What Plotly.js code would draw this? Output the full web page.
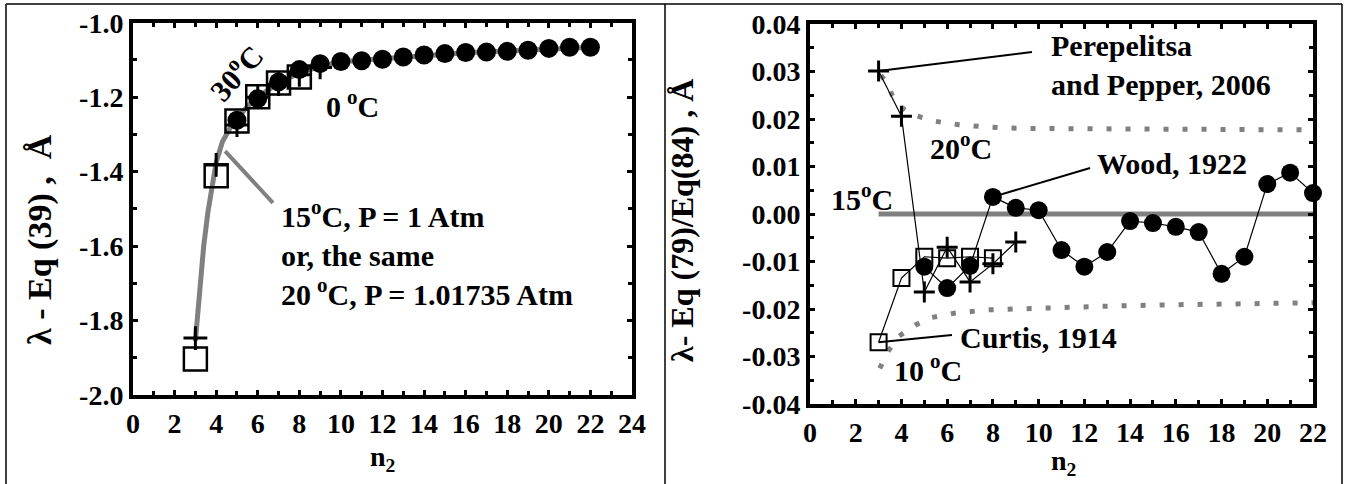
<!DOCTYPE html>
<html><head><meta charset="utf-8">
<script src="https://cdn.plot.ly/plotly-3.0.1.min.js"></script>
<style>html,body{margin:0;padding:0;background:#fff}#chart{width:1348px;height:484px}</style>
</head><body><div id="chart"></div>
<script>
// ---------- LEFT PANEL DATA ----------
const leftCurveN = [3, 3.2, 3.4, 3.6, 3.8, 4, 4.3, 4.7, 5, 5.5, 6, 7, 8, 9, 10, 12, 14, 16, 18, 20, 22];
const leftCurve  = [-1.855, -1.72, -1.60, -1.51, -1.44, -1.375, -1.32, -1.28, -1.258, -1.225, -1.2, -1.162, -1.135, -1.117, -1.105, -1.097, -1.088, -1.081, -1.076, -1.070, -1.066];
const leftSqN    = [3, 4, 5, 6, 7, 8];
const leftSq     = [-1.903, -1.411, -1.264, -1.199, -1.162, -1.146];
const leftCircN  = [5, 6, 7, 8, 9, 10, 11, 12, 13, 14, 15, 16, 17, 18, 19, 20, 21, 22];
const leftCirc   = [-1.262, -1.204, -1.159, -1.126, -1.110, -1.104, -1.102, -1.098, -1.092, -1.087, -1.083, -1.080, -1.079, -1.077, -1.074, -1.069, -1.066, -1.066];
const leftPlusN  = [3, 4, 5, 6, 7, 8, 9];
const leftPlus   = [-1.847, -1.382, -1.275, -1.200, -1.165, -1.140, -1.120];
const leftXTicks = [0, 2, 4, 6, 8, 10, 12, 14, 16, 18, 20, 22, 24];
const leftXText  = ['0','2','4','6','8','10','12','14','16','18','20','22','24'];
const leftYTicks = [-1.0, -1.2, -1.4, -1.6, -1.8, -2.0];
const leftYText  = ['-1.0','-1.2','-1.4','-1.6','-1.8','-2.0'];

// ---------- RIGHT PANEL DATA ----------
const zeroN      = [3, 22];
const zeroV      = [0, 0];
const upperN     = [3.1, 3.3, 3.6, 3.9, 4.3, 4.7, 5.5, 6.5, 7.5, 8.5, 10, 13, 16, 19, 22];
const upperV     = [0.0292, 0.0280, 0.0250, 0.0228, 0.0214, 0.0206, 0.0195, 0.0188, 0.0184, 0.0181, 0.0180, 0.0179, 0.0178, 0.0178, 0.0177];
const lowerN     = [3.05, 3.4, 3.9, 4.6, 5.3, 6.3, 7.7, 10, 13, 16, 19, 22];
const lowerV     = [-0.0325, -0.0290, -0.0257, -0.0234, -0.0218, -0.0209, -0.0202, -0.0198, -0.0194, -0.0191, -0.0189, -0.0187];
const curtisN    = [3, 4, 5, 6, 7, 8];
const curtisV    = [-0.0270, -0.0135, -0.0090, -0.0093, -0.0090, -0.0093];
const perepN     = [3, 4, 5, 6, 7, 8, 9];
const perepV     = [0.0301, 0.0206, -0.0164, -0.0070, -0.0143, -0.0105, -0.0059];
const woodN      = [5, 6, 7, 8, 9, 10, 11, 12, 13, 14, 15, 16, 17, 18, 19, 20, 21, 22];
const woodV      = [-0.0111, -0.0156, -0.0109, 0.0036, 0.0013, 0.0008, -0.0076, -0.0111, -0.0080, -0.0015, -0.0019, -0.0027, -0.0038, -0.0126, -0.0090, 0.0063, 0.0087, 0.0044];
const rightXTicks = [0, 2, 4, 6, 8, 10, 12, 14, 16, 18, 20, 22];
const rightXText  = ['0','2','4','6','8','10','12','14','16','18','20','22'];
const rightYTicks = [0.04, 0.03, 0.02, 0.01, 0.00, -0.01, -0.02, -0.03, -0.04];
const rightYText  = ['0.04','0.03','0.02','0.01','0.00','-0.01','-0.02','-0.03','-0.04'];

const FONT = '"Liberation Serif", "Times New Roman", Times, serif';
const GRAY = '#808080';
const tf = {family: FONT, size: 28, color: 'black', weight: 700};

const traces = [
  {x: leftCurveN, y: leftCurve, mode: 'lines', line: {color: GRAY, width: 5}, xaxis: 'x', yaxis: 'y', cliponaxis: false},
  {x: leftSqN, y: leftSq, mode: 'markers', marker: {symbol: 'square-open', size: 23, color: 'black', line: {width: 2.5, color: 'black'}}, xaxis: 'x', yaxis: 'y', cliponaxis: false},
  {x: leftCircN, y: leftCirc, mode: 'markers', marker: {symbol: 'circle', size: 19, color: 'black'}, xaxis: 'x', yaxis: 'y', cliponaxis: false},
  {x: leftPlusN, y: leftPlus, mode: 'markers', marker: {symbol: 'cross-thin', size: 17, color: 'black', line: {width: 3, color: 'black'}}, xaxis: 'x', yaxis: 'y', cliponaxis: false},

  {x: zeroN, y: zeroV, mode: 'lines', line: {color: GRAY, width: 5}, xaxis: 'x2', yaxis: 'y2', cliponaxis: false},
  {x: upperN, y: upperV, mode: 'lines', line: {color: GRAY, width: 5, dash: '5px,14px'}, xaxis: 'x2', yaxis: 'y2', cliponaxis: false},
  {x: lowerN, y: lowerV, mode: 'lines', line: {color: GRAY, width: 5, dash: '5px,14px'}, xaxis: 'x2', yaxis: 'y2', cliponaxis: false},
  {x: curtisN, y: curtisV, mode: 'lines+markers', line: {color: 'black', width: 1.2}, marker: {symbol: 'square-open', size: 16, color: 'black', line: {width: 2, color: 'black'}}, xaxis: 'x2', yaxis: 'y2', cliponaxis: false},
  {x: perepN, y: perepV, mode: 'lines+markers', line: {color: 'black', width: 1.2}, marker: {symbol: 'cross-thin', size: 15, color: 'black', line: {width: 3, color: 'black'}}, xaxis: 'x2', yaxis: 'y2', cliponaxis: false},
  {x: woodN, y: woodV, mode: 'lines+markers', line: {color: 'black', width: 1.2}, marker: {symbol: 'circle', size: 18, color: 'black'}, xaxis: 'x2', yaxis: 'y2', cliponaxis: false}
];

function axis(extra) {
  return Object.assign({
    showline: true, linewidth: 4, linecolor: 'black', mirror: 'allticks',
    ticks: 'inside', ticklen: 5, tickwidth: 3, tickcolor: 'black',
    showgrid: false, zeroline: false, tickmode: 'array', tickfont: tf, fixedrange: true
  }, extra);
}

const layout = {
  width: 1348, height: 484,
  margin: {l: 0, r: 0, t: 0, b: 0},
  paper_bgcolor: 'white', plot_bgcolor: 'white',
  showlegend: false,
  xaxis: axis({domain: [133/1348, 632/1348], range: [0, 24], anchor: 'y', tickvals: leftXTicks, ticktext: leftXText,
    minor: {tickmode: 'linear', tick0: 0, dtick: 1, ticks: 'inside', ticklen: 4, tickwidth: 3, tickcolor: 'black'}}),
  yaxis: axis({domain: [1 - 395/484, 1 - 22.7/484], range: [-2, -1], anchor: 'x', tickvals: leftYTicks, ticktext: leftYText,
    minor: {tickmode: 'linear', tick0: -2, dtick: 0.1, ticks: 'inside', ticklen: 4, tickwidth: 3, tickcolor: 'black'}}),
  xaxis2: axis({domain: [810/1348, 1313/1348], range: [0, 22], anchor: 'y2', tickvals: rightXTicks, ticktext: rightXText,
    minor: {tickmode: 'linear', tick0: 0, dtick: 1, ticks: 'inside', ticklen: 4, tickwidth: 3, tickcolor: 'black'}}),
  yaxis2: axis({domain: [1 - 404/484, 1 - 24/484], range: [-0.04, 0.04], anchor: 'x2', tickvals: rightYTicks, ticktext: rightYText,
    minor: {tickmode: 'linear', tick0: -0.04, dtick: 0.005, ticks: 'inside', ticklen: 4, tickwidth: 3, tickcolor: 'black'}}),
  shapes: [
    // outer frame and divider
    {type: 'line', xref: 'paper', yref: 'paper', x0: 6/1348, x1: 1342/1348, y0: 1 - 4/484, y1: 1 - 4/484, line: {color: 'black', width: 1.5}},
    {type: 'line', xref: 'paper', yref: 'paper', x0: 6/1348, x1: 6/1348, y0: -0.01, y1: 1 - 4/484, line: {color: 'black', width: 1.5}},
    {type: 'line', xref: 'paper', yref: 'paper', x0: 1342/1348, x1: 1342/1348, y0: -0.01, y1: 1 - 4/484, line: {color: 'black', width: 1.5}},
    {type: 'line', xref: 'paper', yref: 'paper', x0: 665/1348, x1: 665/1348, y0: -0.01, y1: 1 - 4/484, line: {color: 'black', width: 1.5}},
    // left pointer
    {type: 'line', xref: 'x', yref: 'y', x0: 4.43, y0: -1.345, x1: 6.73, y1: -1.484, line: {color: GRAY, width: 4}},
    // right pointers
    {type: 'line', xref: 'x2', yref: 'y2', x0: perepN[0], y0: perepV[0], x1: 9.71, y1: 0.0341, line: {color: 'black', width: 2}},
    {type: 'line', xref: 'x2', yref: 'y2', x0: woodN[3], y0: woodV[3], x1: 12.25, y1: 0.0097, line: {color: 'black', width: 2}},
    {type: 'line', xref: 'x2', yref: 'y2', x0: curtisN[0], y0: curtisV[0], x1: 6.21, y1: -0.0255, line: {color: 'black', width: 2}}
  ],
  annotations: []
};

const af = {family: FONT, size: 30, color: 'black', weight: 700};
function ann(xref, yref, x, y, text, extra) {
  return Object.assign({xref: xref, yref: yref, x: x, y: y, text: text, showarrow: false, font: Object.assign({}, af), xanchor: 'left', yanchor: 'middle', align: 'left'}, extra || {});
}
const TS = '\u2009';
layout.annotations.push(
  // left panel texts
  ann('x', 'y', 4.9, -1.1325, '30<sup>o</sup>C', {xanchor: 'center', textangle: -48}),
  ann('x', 'y', 10.58, -1.218, '0' + TS + '<sup>o</sup>C', {xanchor: 'center'}),
  ann('x', 'y', 7.02, -1.619, '15<sup>o</sup>C, P = 1 Atm<br>or, the same<br>20' + TS + '<sup>o</sup>C, P = 1.01735 Atm'),
  // right panel texts
  ann('x2', 'y2', 10.45, 0.0314, 'Perepelitsa<br>and Pepper, 2006'),
  ann('x2', 'y2', 12.47, 0.0107, 'Wood, 1922'),
  ann('x2', 'y2', 6.47, -0.0261, 'Curtis, 1914'),
  ann('x2', 'y2', 6.6, 0.0143, '20<sup>o</sup>C', {xanchor: 'center'}),
  ann('x2', 'y2', 2.27, 0.0036, '15<sup>o</sup>C', {xanchor: 'center'}),
  ann('x2', 'y2', 5.16, -0.0324, '10' + TS + '<sup>o</sup>C', {xanchor: 'center'}),
  // axis titles
  ann('paper', 'paper', 382/1348, 1 - 458/484, 'n<sub>2</sub>', {xanchor: 'center', font: {family: FONT, size: 28, color: 'black', weight: 700}}),
  ann('paper', 'paper', 1063/1348, 1 - 462/484, 'n<sub>2</sub>', {xanchor: 'center', font: {family: FONT, size: 28, color: 'black', weight: 700}}),
  ann('paper', 'paper', 40/1348, 1 - 240/484, 'λ - Eq (39) ,  Å', {xanchor: 'center', textangle: -90, font: {family: FONT, size: 34, color: 'black', weight: 700}}),
  ann('paper', 'paper', 682/1348, 1 - 221/484, 'λ- Eq (79)/Eq(84) , Å', {xanchor: 'center', textangle: -90, font: {family: FONT, size: 32, color: 'black', weight: 700}})
);

Plotly.newPlot('chart', traces, layout, {staticPlot: true, displayModeBar: false});
</script>
</body></html>
